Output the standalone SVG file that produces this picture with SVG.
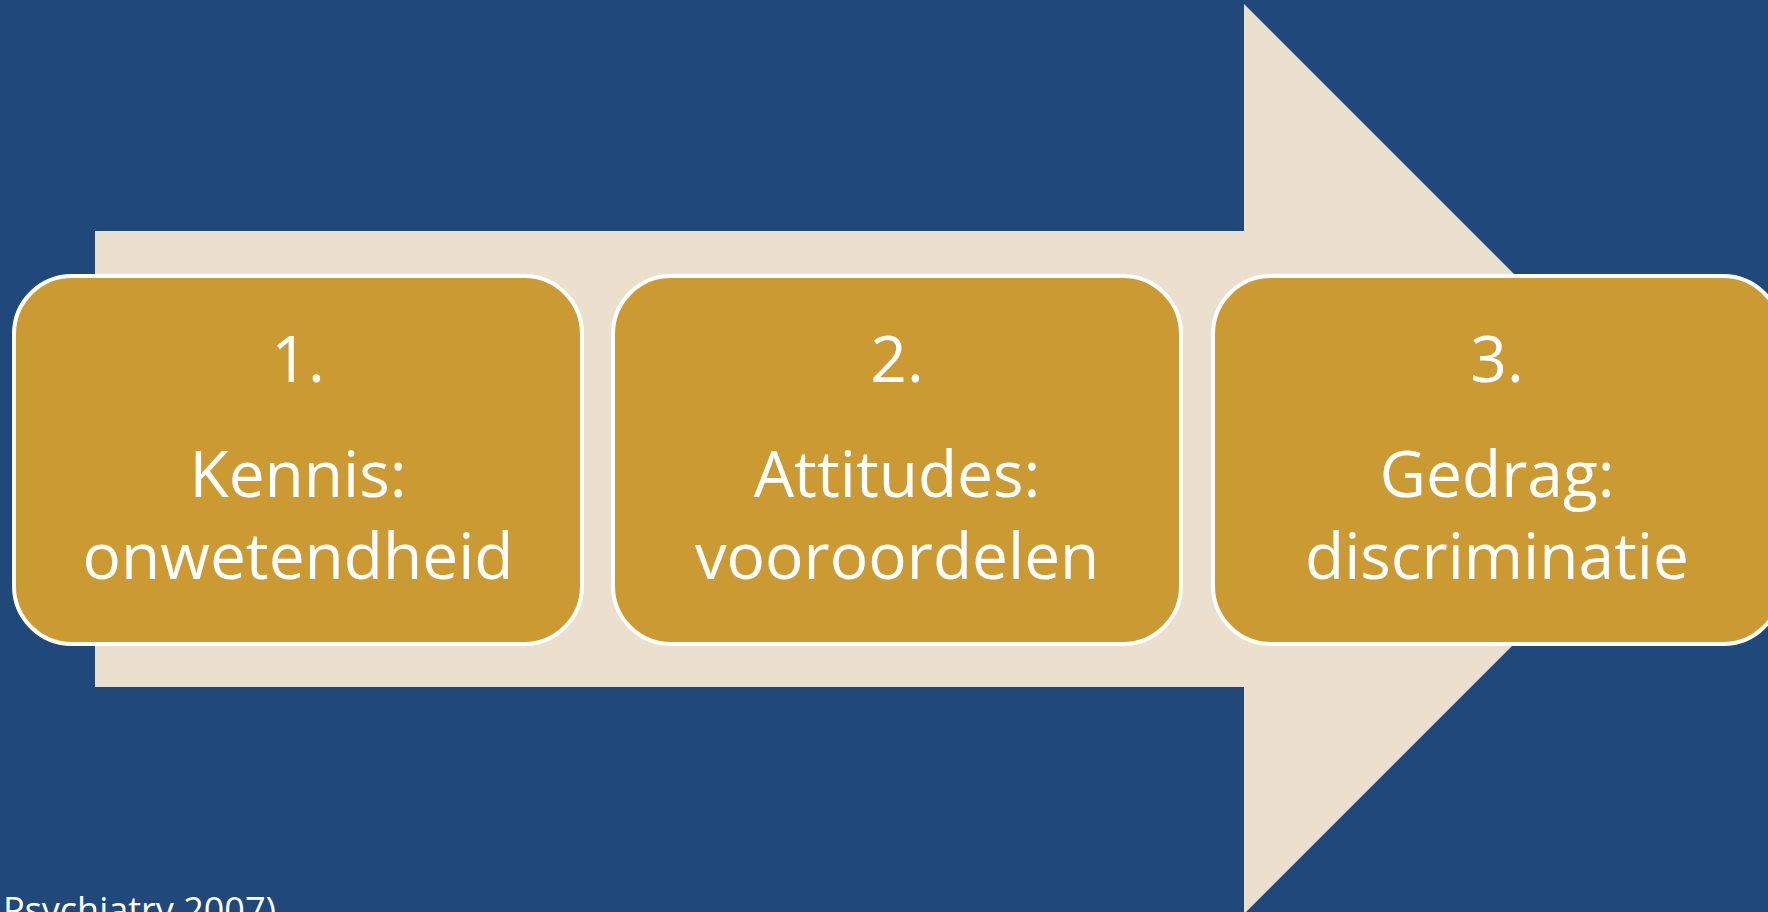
<svg xmlns="http://www.w3.org/2000/svg" width="1768" height="912" viewBox="0 0 1768 912">
<style>
.box{fill:#CC9A33;stroke:#FFFFFF;stroke-width:4}
.t{font-family:"Open Sans","Noto Sans","Liberation Sans",sans-serif;font-size:64px;fill:#FFFFFF;text-anchor:middle}
.note{font-family:"Open Sans","Noto Sans","Liberation Sans",sans-serif;font-size:36px;fill:#FFFFFF}
</style>
<rect x="0" y="0" width="1768" height="912" fill="#20487A"/>
<g id="arrow">
<polygon points="95,231 1244,231 1244,4 1699,459 1244,914 1244,687 95,687" fill="#EBDFCE"/>
</g>
<g id="connectors"></g>
<g id="node1">
<rect class="box" x="14" y="276" width="568" height="368" rx="58" ry="58"/>
<text class="t" x="298" y="382">1.</text>
<text class="t" x="298" y="497">Kennis:</text>
<text class="t" x="298" y="579">onwetendheid</text>
</g>
<g id="node2">
<rect class="box" x="613" y="276" width="568" height="368" rx="58" ry="58"/>
<text class="t" x="897" y="382">2.</text>
<text class="t" x="897" y="497">Attitudes:</text>
<text class="t" x="897" y="579">vooroordelen</text>
</g>
<g id="node3">
<rect class="box" x="1213" y="276" width="568" height="368" rx="58" ry="58"/>
<text class="t" x="1497" y="382">3.</text>
<text class="t" x="1497" y="497">Gedrag:</text>
<text class="t" x="1497" y="579">discriminatie</text>
</g>
<text class="note" x="3" y="923">Psychiatry 2007)</text>
</svg>
